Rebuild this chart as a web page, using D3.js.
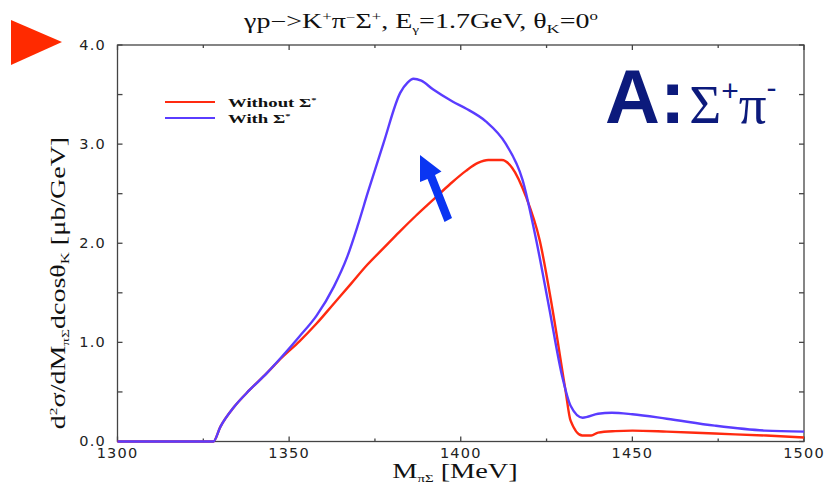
<!DOCTYPE html>
<html>
<head>
<meta charset="utf-8">
<script src="https://cdn.jsdelivr.net/npm/d3@7/dist/d3.min.js"></script>
<style>
  body { margin: 0; background: #fff; }
  svg { display: block; }
  .serif { font-family: "Liberation Serif", "DejaVu Serif", serif; }
  .sans { font-family: "Liberation Sans", Arial, sans-serif; }
  .tick { font-family: "DejaVu Sans", sans-serif; letter-spacing: 1.2px; }
</style>
</head>
<body>
<div id="container"></div>
<script>
// invariant mass points (MeV) and cross sections (mb/GeV)
var massWith = [1300, 1327.9, 1330, 1334, 1338.5, 1343.5, 1348, 1353, 1358, 1363, 1367, 1370, 1373, 1377.5, 1382.4, 1384.5, 1386.2, 1388.5, 1392, 1397.6, 1401.5, 1407.3, 1413, 1418, 1422, 1425.7, 1429.6, 1432, 1435.5, 1440, 1444, 1450, 1460, 1474, 1488.6, 1500];
var valWith  = [0, 0, 0.15, 0.35, 0.52, 0.69, 0.86, 1.06, 1.27, 1.56, 1.87, 2.18, 2.52, 3.01, 3.52, 3.62, 3.66, 3.64, 3.55, 3.43, 3.36, 3.23, 3.01, 2.64, 2.03, 1.36, 0.65, 0.36, 0.24, 0.28, 0.29, 0.275, 0.23, 0.16, 0.11, 0.10];

var massWithout = [1300, 1327.9, 1330, 1334, 1338.5, 1343.5, 1348, 1353, 1358, 1363, 1368, 1372.7, 1377.5, 1382, 1387, 1392, 1397, 1401.5, 1405, 1408, 1412, 1415, 1419, 1423, 1426.6, 1430.5, 1432, 1435.4, 1438, 1440, 1445, 1450, 1460, 1474, 1489, 1500];
var valWithout  = [0, 0, 0.15, 0.35, 0.52, 0.69, 0.85, 1.01, 1.19, 1.39, 1.59, 1.78, 1.95, 2.11, 2.28, 2.44, 2.60, 2.73, 2.81, 2.84, 2.84, 2.76, 2.47, 2.03, 1.36, 0.52, 0.21, 0.06, 0.06, 0.09, 0.105, 0.11, 0.10, 0.08, 0.06, 0.04];

var xTicks = [1300, 1350, 1400, 1450, 1500];
var xMinor = [1325, 1375, 1425, 1475];
var yTicks = [0, 1, 2, 3, 4];
var yMinor = [0.5, 1.5, 2.5, 3.5];

var width = 826, height = 483;
var pLeft = 117.5, pRight = 804, pTop = 45, pBottom = 441.5;

var svg = d3.select("#container").append("svg")
  .attr("width", width)
  .attr("height", height);

var x = d3.scaleLinear().domain([1300, 1500]).range([pLeft, pRight]);
var y = d3.scaleLinear().domain([0, 4]).range([pBottom, pTop]);

/* frame with inward ticks on all sides */
var frame = svg.append("g").attr("stroke", "#444").attr("stroke-width", 1.3);
frame.append("rect")
  .attr("x", pLeft).attr("y", pTop)
  .attr("width", pRight - pLeft).attr("height", pBottom - pTop)
  .attr("fill", "none");

function xt(vals, len) {
  vals.forEach(function(v) {
    frame.append("line").attr("x1", x(v)).attr("x2", x(v)).attr("y1", pBottom).attr("y2", pBottom - len);
    frame.append("line").attr("x1", x(v)).attr("x2", x(v)).attr("y1", pTop).attr("y2", pTop + len);
  });
}
function yt(vals, len) {
  vals.forEach(function(v) {
    frame.append("line").attr("y1", y(v)).attr("y2", y(v)).attr("x1", pLeft).attr("x2", pLeft + len);
    frame.append("line").attr("y1", y(v)).attr("y2", y(v)).attr("x1", pRight).attr("x2", pRight - len);
  });
}
xt(xTicks, 5); xt(xMinor, 3);
yt(yTicks, 5); yt(yMinor, 5);

svg.append("g").selectAll("text")
  .data(xTicks)
  .enter().append("text")
  .attr("class", "tick")
  .attr("x", function(d) { return x(d); })
  .attr("y", 457.5)
  .attr("text-anchor", "middle")
  .attr("font-size", 14.5)
  .attr("fill", "#222")
  .text(function(d) { return d; });

svg.append("g").selectAll("text")
  .data(yTicks)
  .enter().append("text")
  .attr("class", "tick")
  .attr("x", 106)
  .attr("y", function(d) { return y(d) + 4.5; })
  .attr("text-anchor", "end")
  .attr("font-size", 14.5)
  .attr("fill", "#222")
  .text(function(d) { return d3.format(".1f")(d); });

/* curves */
var line = d3.line()
  .x(function(d) { return x(d[0]); })
  .y(function(d) { return y(d[1]); })
  .curve(d3.curveMonotoneX);

svg.append("path")
  .datum(d3.zip(massWithout, valWithout))
  .attr("fill", "none")
  .attr("stroke", "#ff2a10")
  .attr("stroke-width", 2.4)
  .attr("d", line);

svg.append("path")
  .datum(d3.zip(massWith, valWith))
  .attr("fill", "none")
  .attr("stroke", "#5a3cff")
  .attr("stroke-width", 2.4)
  .attr("d", line);

/* legend */
var legend = svg.append("g");
[["Without ", "#ff2a10", 102, 106.5], ["With ", "#5a3cff", 118, 122.5]].forEach(function(r) {
  legend.append("line")
    .attr("x1", 165).attr("x2", 215)
    .attr("y1", r[2]).attr("y2", r[2])
    .attr("stroke", r[1]).attr("stroke-width", 2);
  var t = legend.append("text")
    .attr("class", "serif")
    .attr("transform", "translate(228," + r[3] + ") scale(1.5,1)")
    .attr("font-size", 12.5)
    .attr("font-weight", "bold")
    .attr("fill", "#111");
  t.append("tspan").text(r[0] + "\u03A3");
  t.append("tspan").attr("dy", -5).attr("font-size", 7).text("*");
});

/* title */
var title = svg.append("text")
  .attr("class", "serif")
  .attr("transform", "translate(421,28) scale(1.4,1)")
  .attr("text-anchor", "middle")
  .attr("font-size", 20)
  .attr("fill", "#111");
function piece(txt, dy, fs) {
  var s = title.append("tspan").text(txt);
  if (dy) s.attr("dy", dy);
  if (fs) s.attr("font-size", fs);
}
piece("\u03B3p\u2212>K");
piece("+", -7, 12);
piece("\u03C0", 7);
piece("\u2212", -7, 12);
piece("\u03A3", 7);
piece("+", -7, 12);
piece(", E", 7);
piece("\u03B3", 5, 11);
piece("=1.7GeV, \u03B8", -5);
piece("K", 5, 13);
piece("=0", -5);
piece("o", -8, 12);

/* axis titles */
var xl = svg.append("text")
  .attr("class", "serif")
  .attr("transform", "translate(455,477.5) scale(1.35,1)")
  .attr("text-anchor", "middle")
  .attr("font-size", 21)
  .attr("fill", "#111");
xl.append("tspan").text("M");
xl.append("tspan").attr("dy", 4).attr("font-size", 11).text("\u03C0\u03A3");
xl.append("tspan").attr("dy", -4).text(" [MeV]");

var yl = svg.append("text")
  .attr("class", "serif")
  .attr("transform", "translate(65,283) rotate(-90) scale(1.4,1)")
  .attr("text-anchor", "middle")
  .attr("font-size", 20)
  .attr("fill", "#111");
yl.append("tspan").text("d");
yl.append("tspan").attr("dy", -8).attr("font-size", 11).text("2");
yl.append("tspan").attr("dy", 8).text("\u03C3/dM");
yl.append("tspan").attr("dy", 4).attr("font-size", 11).text("\u03C0\u03A3");
yl.append("tspan").attr("dy", -4).text("dcos\u03B8");
yl.append("tspan").attr("dy", 4).attr("font-size", 12).text("K");
yl.append("tspan").attr("dy", -4).text(" [\u03BCb/GeV]");

/* slide decorations */
svg.append("path")
  .attr("d", "M11,20 L62,42 L11,65 Z")
  .attr("fill", "#ff2a00");

svg.append("path")
  .attr("d", "M420,155 L441.5,171.5 L435,175 L452,218 L444.5,222 L427.5,179 L420,182 Z")
  .attr("fill", "#0a35f2");

var lab = svg.append("text")
  .attr("x", 605).attr("y", 123)
  .attr("fill", "#0c1a7c");
lab.append("tspan").attr("class", "sans").attr("font-weight", "bold").attr("font-size", 76).text("A:");
lab.append("tspan").attr("class", "serif").attr("font-size", 55).attr("dx", 4).text("\u03A3");
lab.append("tspan").attr("class", "sans").attr("font-size", 30).attr("dy", -22).text("+");
lab.append("tspan").attr("class", "serif").attr("font-size", 55).attr("dy", 22).text("\u03C0");
lab.append("tspan").attr("class", "sans").attr("font-size", 30).attr("dy", -25).text("-");
</script>
</body>
</html>
